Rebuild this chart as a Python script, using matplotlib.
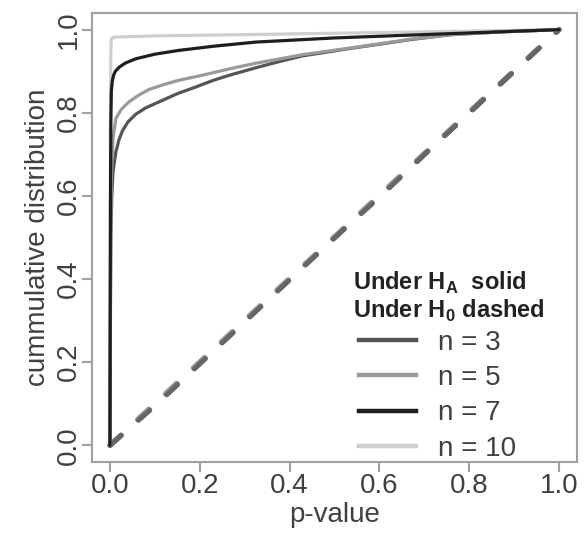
import numpy as np
import matplotlib.pyplot as plt
from matplotlib.lines import Line2D

plt.rcParams['font.family'] = ['Liberation Sans', 'DejaVu Sans']
plt.rcParams['mathtext.fontset'] = 'custom'
plt.rcParams['mathtext.rm'] = 'Liberation Sans'
plt.rcParams['mathtext.bf'] = 'Liberation Sans:bold'

# ECDF curves (p-value, cumulative distribution)
# under H_A (solid)
x_n3 = [0.0, 0.001, 0.002, 0.004, 0.007, 0.013, 0.02, 0.028, 0.04, 0.058, 0.08, 0.117, 0.15,
        0.191, 0.23, 0.265, 0.324, 0.38, 0.43, 0.536, 0.6, 0.669, 0.76, 0.88, 1.0]
y_n3 = [0.0, 0.30, 0.50, 0.60, 0.66, 0.705, 0.735, 0.757, 0.778, 0.797, 0.812, 0.83, 0.846,
        0.862, 0.878, 0.89, 0.908, 0.924, 0.937, 0.955, 0.965, 0.976, 0.988, 0.995, 1.0]

x_n5 = [0.0, 0.001, 0.002, 0.004, 0.007, 0.013, 0.025, 0.042, 0.065, 0.087, 0.12, 0.153,
        0.2, 0.236, 0.28, 0.324, 0.38, 0.43, 0.536, 0.6, 0.669, 0.76, 0.88, 1.0]
y_n5 = [0.0, 0.35, 0.55, 0.68, 0.74, 0.786, 0.808, 0.826, 0.843, 0.856, 0.868, 0.878,
        0.889, 0.898, 0.909, 0.919, 0.93, 0.94, 0.956, 0.966, 0.977, 0.988, 0.995, 1.0]

x_n7 = [0.0, 0.001, 0.002, 0.003, 0.005, 0.008, 0.012, 0.021, 0.035, 0.058, 0.1, 0.153,
        0.23, 0.324, 0.5, 0.647, 0.8, 1.0]
y_n7 = [0.0, 0.55, 0.78, 0.85, 0.875, 0.89, 0.9, 0.91, 0.92, 0.93, 0.941, 0.95,
        0.96, 0.97, 0.98, 0.986, 0.992, 1.0]

x_n10 = [0.0, 0.001, 0.002, 0.003, 0.01, 0.1, 0.3, 0.6, 1.0]
y_n10 = [0.0, 0.80, 0.95, 0.978, 0.982, 0.985, 0.988, 0.993, 1.0]

# under H_0 (dashed)
xd = [0.0, 0.1, 0.2, 0.3, 0.4, 0.5, 0.6, 0.7, 0.8, 0.9, 1.0]
yd_n3 = [0.0, 0.095, 0.196, 0.297, 0.398, 0.499, 0.597, 0.699, 0.8, 0.9, 1.0]
yd_n5 = [0.0, 0.1, 0.2, 0.3, 0.401, 0.501, 0.601, 0.702, 0.802, 0.901, 1.0]
yd_n7 = [0.0, 0.099, 0.199, 0.299, 0.4, 0.5, 0.6, 0.7, 0.8, 0.9, 1.0]
yd_n10 = [0.0, 0.102, 0.202, 0.303, 0.403, 0.503, 0.603, 0.703, 0.803, 0.902, 1.0]

labels = ['n = 3', 'n = 5', 'n = 7', 'n = 10']
colors = ['#555555', '#9a9a9a', '#1e1e1e', '#cfcfcf']

fig = plt.figure(figsize=(5.88, 5.35), dpi=100)
ax = fig.add_axes([92 / 588, 1 - 462 / 535, 485 / 588, 449 / 535])

dash_kw = dict(linewidth=3.6, dashes=(3.0, 4.6), dash_capstyle='round')
ax.plot(xd, yd_n10, color=colors[3], **dash_kw)
ax.plot(xd, yd_n7, color=colors[2], **dash_kw)
ax.plot(xd, yd_n5, color=colors[1], **dash_kw)
ax.plot(xd, yd_n3, color='#666666', **dash_kw)

solid_kw = dict(linewidth=2.3, solid_capstyle='round', solid_joinstyle='round')
ax.plot(x_n10, y_n10, color=colors[3], **solid_kw)
ax.plot(x_n3, y_n3, color=colors[0], **solid_kw)
ax.plot(x_n5, y_n5, color=colors[1], **solid_kw)
ax.plot(x_n7, y_n7, color=colors[2], **solid_kw)

ax.set_xlim(-0.04, 1.04)
ax.set_ylim(-0.04, 1.04)
ticks = [0.0, 0.2, 0.4, 0.6, 0.8, 1.0]
ax.set_xticks(ticks)
ax.set_yticks(ticks)
ax.set_xticklabels([f'{t:.1f}' for t in ticks])
ax.set_yticklabels([f'{t:.1f}' for t in ticks], rotation=90, va='center')

for s in ax.spines.values():
    s.set_color('#a0a0a0')
    s.set_linewidth(1.5)
ax.tick_params(colors='#a0a0a0', labelcolor='#404040', labelsize=20,
               length=7, width=1.5)
ax.tick_params(axis='x', pad=1)
ax.tick_params(axis='y', pad=0)

ax.set_xlabel('p-value', fontsize=20, color='#404040', labelpad=2)
ax.set_ylabel('cummulative distribution', fontsize=20, color='#404040', labelpad=4)

ax.text(0.538, 0.399, r'Under H$_{\mathbf{A}}$  solid', transform=ax.transAxes,
        fontsize=17, fontweight='bold', color='#222222', va='center', ha='left')
ax.text(0.538, 0.336, r'Under H$_{\mathbf{0}}$ dashed', transform=ax.transAxes,
        fontsize=17, fontweight='bold', color='#222222', va='center', ha='left')

handles = [Line2D([], [], color=c, linewidth=3.2) for c in colors]
leg = ax.legend(handles, labels, loc='upper left', bbox_to_anchor=(0.55, 0.295),
                frameon=False, fontsize=20, handlelength=2.05, handletextpad=0.8,
                labelspacing=0.34, borderpad=0, borderaxespad=0)
for t in leg.get_texts():
    t.set_color('#404040')

fig.savefig('out.png', dpi=100)
